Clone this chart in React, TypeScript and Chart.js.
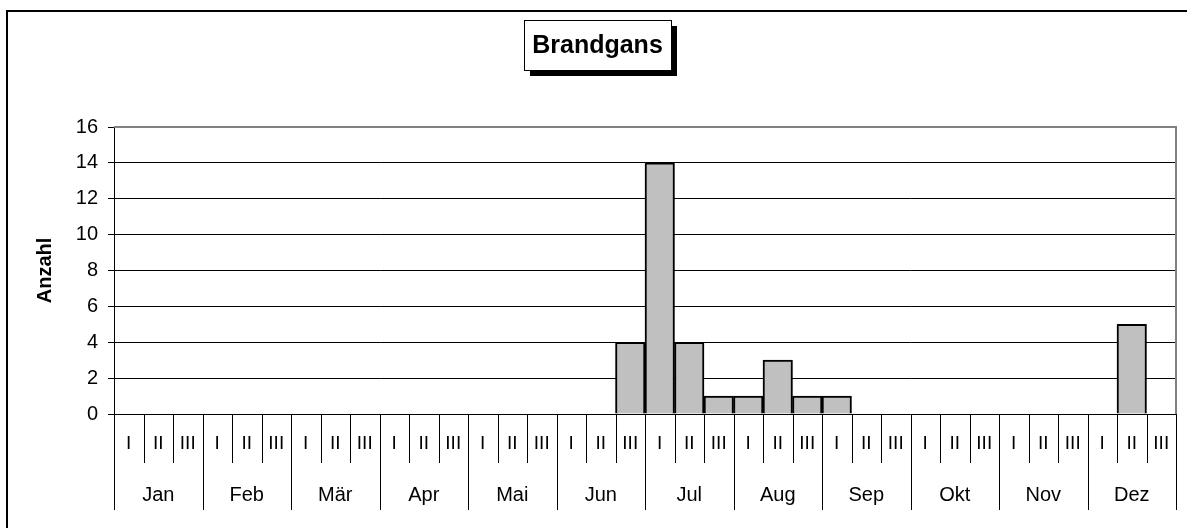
import React, { useEffect, useRef } from "react";
import { Chart, registerables } from "chart.js";

Chart.register(...registerables);

const TITLE = "Brandgans";
const Y_TITLE = "Anzahl";
const MONTHS = ["Jan", "Feb", "Mär", "Apr", "Mai", "Jun", "Jul", "Aug", "Sep", "Okt", "Nov", "Dez"];
const DECADES = ["I", "II", "III"];
const CATEGORIES = MONTHS.flatMap((m) => DECADES.map((d) => `${d} ${m}`));
// values per decade (Jan I .. Dez III)
const VALUES = [
  0, 0, 0, // Jan
  0, 0, 0, // Feb
  0, 0, 0, // Mär
  0, 0, 0, // Apr
  0, 0, 0, // Mai
  0, 0, 4, // Jun
  14, 4, 1, // Jul
  1, 3, 1, // Aug
  1, 0, 0, // Sep
  0, 0, 0, // Okt
  0, 0, 0, // Nov
  0, 5, 0, // Dez
];
const Y_MIN = 0;
const Y_MAX = 16;
const Y_STEP = 2;

const FONT = "Arial, 'Liberation Sans', sans-serif";

const decorPlugin = {
  id: "decor",
  afterDraw(chart: any) {
    const { ctx, chartArea } = chart;
    const xs = chart.scales.x;
    const { left, right, top, bottom } = chartArea;
    ctx.save();

    // plot area border (grey) top and right
    ctx.strokeStyle = "#808080";
    ctx.lineWidth = 2;
    ctx.beginPath();
    ctx.moveTo(left, top);
    ctx.lineTo(right, top);
    ctx.lineTo(right, bottom);
    ctx.stroke();

    // category axis: separators and labels
    const n = CATEGORIES.length;
    const bounds: number[] = [];
    for (let i = 0; i <= n; i++) {
      if (i === 0) bounds.push(left);
      else if (i === n) bounds.push(right);
      else bounds.push((xs.getPixelForValue(i - 1) + xs.getPixelForValue(i)) / 2);
    }
    ctx.strokeStyle = "#000";
    ctx.lineWidth = 1;
    for (let i = 0; i <= n; i++) {
      const x = Math.round(bounds[i]) + 0.5;
      const isMonth = i % DECADES.length === 0;
      ctx.beginPath();
      ctx.moveTo(x, bottom);
      ctx.lineTo(x, bottom + (isMonth ? 96 : 49));
      ctx.stroke();
    }
    ctx.fillStyle = "#000";
    ctx.textAlign = "center";
    ctx.textBaseline = "middle";
    ctx.font = `19px ${FONT}`;
    for (let i = 0; i < n; i++) {
      ctx.fillText(DECADES[i % DECADES.length], xs.getPixelForValue(i), bottom + 30);
    }
    ctx.font = `20px ${FONT}`;
    for (let m = 0; m < MONTHS.length; m++) {
      const cx = (bounds[m * 3] + bounds[m * 3 + 3]) / 2;
      ctx.fillText(MONTHS[m], cx, bottom + 81);
    }

    // outer frame
    ctx.strokeStyle = "#000";
    ctx.lineWidth = 2;
    ctx.strokeRect(7, 11, 1300, 700);

    // title box with shadow
    const bx = 524, by = 20, bw = 147, bh = 50, sh = 6;
    ctx.fillStyle = "#000";
    ctx.fillRect(bx + sh, by + sh, bw, bh);
    ctx.fillStyle = "#fff";
    ctx.fillRect(bx, by, bw, bh);
    ctx.strokeStyle = "#000";
    ctx.lineWidth = 1;
    ctx.strokeRect(bx + 0.5, by + 0.5, bw, bh);
    ctx.fillStyle = "#000";
    ctx.font = `bold 25px ${FONT}`;
    ctx.textAlign = "center";
    ctx.textBaseline = "middle";
    ctx.fillText(TITLE, bx + bw / 2, by + bh / 2 + 1);

    ctx.restore();
  },
};

export default function App() {
  const ref = useRef<HTMLCanvasElement | null>(null);
  useEffect(() => {
    document.body.style.margin = "0";
    const canvas = ref.current!;
    const chart = new Chart(canvas, {
      type: "bar",
      data: {
        labels: CATEGORIES,
        datasets: [
          {
            data: VALUES,
            backgroundColor: "#C0C0C0",
            borderColor: "#000",
            borderWidth: 2,
            barPercentage: 1,
            categoryPercentage: 1,
          },
        ],
      },
      options: {
        animation: false,
        responsive: false,
        devicePixelRatio: 1,
        layout: { padding: { left: 0, top: 127, right: 11, bottom: 114 } },
        plugins: { legend: { display: false }, title: { display: false }, tooltip: { enabled: false } },
        scales: {
          x: {
            type: "category",
            offset: true,
            grid: { display: false },
            border: { display: false },
            ticks: { display: false },
            afterFit: (s: any) => {
              s.height = 0;
            },
          },
          y: {
            min: Y_MIN,
            max: Y_MAX,
            ticks: { stepSize: Y_STEP, color: "#000", font: { family: FONT, size: 20 }, padding: 10 },
            grid: { color: "#000", lineWidth: 1, tickLength: 6 },
            border: { color: "#000", width: 1 },
            title: {
              display: true,
              text: Y_TITLE,
              color: "#000",
              font: { family: FONT, size: 20, weight: "bold" },
              padding: { top: 33, bottom: 0 },
            },
            afterFit: (s: any) => {
              s.width = 114;
            },
          },
        },
      },
      plugins: [decorPlugin],
    });
    return () => chart.destroy();
  }, []);
  return <canvas ref={ref} width={1187} height={528} style={{ display: "block", width: 1187, height: 528 }} />;
}
